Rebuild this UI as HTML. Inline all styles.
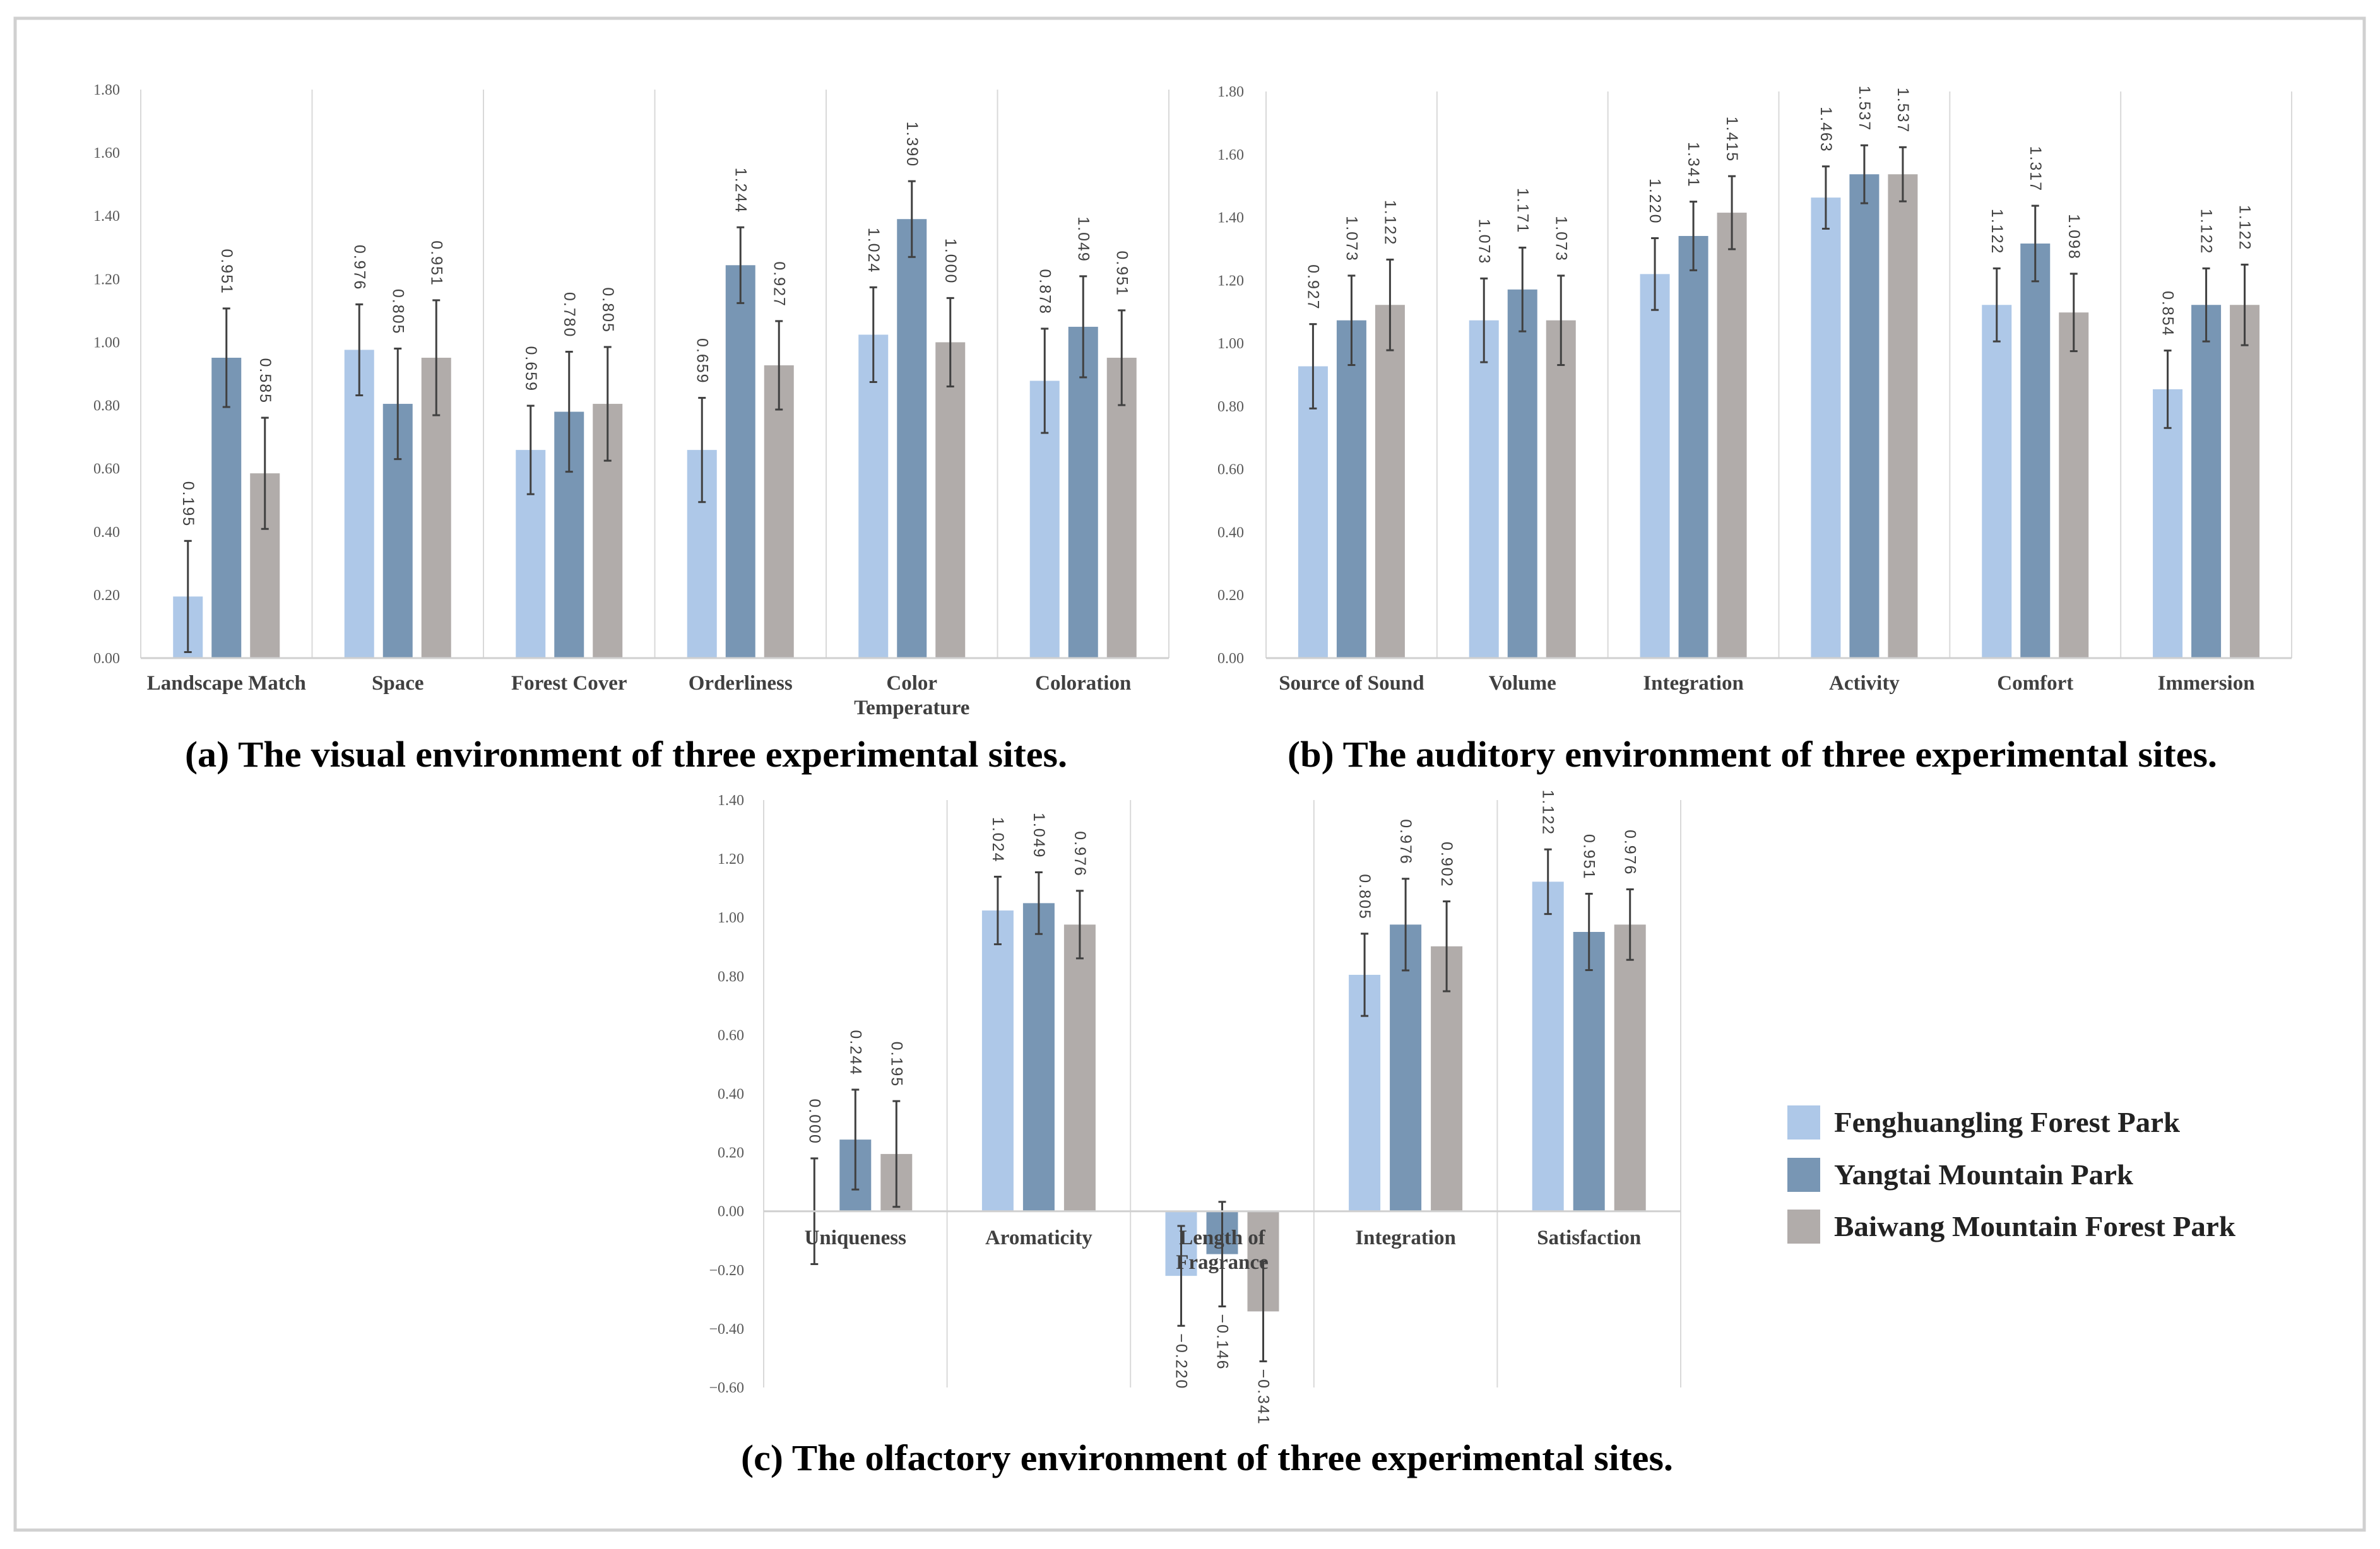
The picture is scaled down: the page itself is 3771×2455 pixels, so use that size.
<!DOCTYPE html>
<html><head><meta charset="utf-8"><style>
html,body{margin:0;padding:0;background:#fff}
svg{display:block}
</style></head><body>
<svg id="root" width="3771" height="2455" viewBox="0 0 3771 2455" xmlns="http://www.w3.org/2000/svg">
<rect x="24" y="29" width="3722" height="2396" fill="#fff" stroke="#d0d0d0" stroke-width="5"/>
<g id="ga"></g>
<g id="gb"></g>
<g id="gc"></g>
<text x="293" y="1215" textLength="1398" lengthAdjust="spacingAndGlyphs" font-family="Liberation Serif, serif" font-weight="bold" font-size="58" fill="#000">(a) The visual environment of three experimental sites.</text>
<text x="2040" y="1215" textLength="1473" lengthAdjust="spacingAndGlyphs" font-family="Liberation Serif, serif" font-weight="bold" font-size="58" fill="#000">(b) The auditory environment of three experimental sites.</text>
<text x="1174" y="2330" textLength="1477" lengthAdjust="spacingAndGlyphs" font-family="Liberation Serif, serif" font-weight="bold" font-size="58" fill="#000">(c) The olfactory environment of three experimental sites.</text>
<g>
<rect x="2832" y="1752" width="52" height="54" fill="#aec8e8"/>
<text x="2906" y="1794" textLength="548" lengthAdjust="spacingAndGlyphs" font-family="Liberation Serif, serif" font-weight="bold" font-size="46" fill="#222">Fenghuangling Forest Park</text>
<rect x="2832" y="1835" width="52" height="54" fill="#7896b4"/>
<text x="2906" y="1877" textLength="474" lengthAdjust="spacingAndGlyphs" font-family="Liberation Serif, serif" font-weight="bold" font-size="46" fill="#222">Yangtai Mountain Park</text>
<rect x="2832" y="1917" width="52" height="54" fill="#b1acaa"/>
<text x="2906" y="1959" textLength="636" lengthAdjust="spacingAndGlyphs" font-family="Liberation Serif, serif" font-weight="bold" font-size="46" fill="#222">Baiwang Mountain Forest Park</text>
</g>
</svg>
<script>
// Chart (a) visual
const catsA = [["Landscape Match"],["Space"],["Forest Cover"],["Orderliness"],["Color","Temperature"],["Coloration"]];
const fengA = [0.195,0.976,0.659,0.659,1.024,0.878];
const yangA = [0.951,0.805,0.780,1.244,1.390,1.049];
const baiA  = [0.585,0.951,0.805,0.927,1.000,0.951];
const errFA = [0.176,0.144,0.14,0.165,0.15,0.165];
const errYA = [0.156,0.175,0.19,0.12,0.12,0.16];
const errBA = [0.176,0.182,0.18,0.14,0.14,0.15];
const ticksA = ["0.00","0.20","0.40","0.60","0.80","1.00","1.20","1.40","1.60","1.80"];
// Chart (b) auditory
const catsB = [["Source of Sound"],["Volume"],["Integration"],["Activity"],["Comfort"],["Immersion"]];
const fengB = [0.927,1.073,1.220,1.463,1.122,0.854];
const yangB = [1.073,1.171,1.341,1.537,1.317,1.122];
const baiB  = [1.122,1.073,1.415,1.537,1.098,1.122];
const errFB = [0.134,0.133,0.114,0.099,0.116,0.123];
const errYB = [0.142,0.133,0.109,0.092,0.12,0.116];
const errBB = [0.144,0.142,0.116,0.086,0.123,0.128];
const ticksB = ["0.00","0.20","0.40","0.60","0.80","1.00","1.20","1.40","1.60","1.80"];
// Chart (c) olfactory
const catsC = [["Uniqueness"],["Aromaticity"],["Length of","Fragrance"],["Integration"],["Satisfaction"]];
const fengC = [0.000,1.024,-0.220,0.805,1.122];
const yangC = [0.244,1.049,-0.146,0.976,0.951];
const baiC  = [0.195,0.976,-0.341,0.902,0.976];
const errFC = [0.18,0.115,0.17,0.14,0.11];
const errYC = [0.17,0.105,0.178,0.156,0.13];
const errBC = [0.18,0.115,0.17,0.153,0.12];
const ticksC = ["-0.60","-0.40","-0.20","0.00","0.20","0.40","0.60","0.80","1.00","1.20","1.40"];

const NS="http://www.w3.org/2000/svg";
const COLORS=["#aec8e8","#7896b4","#b1acaa"];
const SERIES=["fenghuangling","yangtai","baiwang"];
function mk(tag,attrs,parent){const e=document.createElementNS(NS,tag);for(const k in attrs)e.setAttribute(k,attrs[k]);parent.appendChild(e);return e;}

function draw(g,key,cfg,cats,series,errs,ticks){
  const yScale=v=>cfg.y0-(v-cfg.vmin)/(cfg.vmax-cfg.vmin)*(cfg.y0-cfg.y1);
  const n=cats.length, cw=(cfg.x1-cfg.x0)/n;
  const xCenter=i=>cfg.x0+cw*(i+0.5);
  ticks.forEach(t=>{
    const v=parseFloat(t);
    const e=mk("text",{x:cfg.tx,y:yScale(v)+8,"text-anchor":"end","font-family":"Liberation Serif, serif","font-size":"24",fill:"#595959"},g);
    e.textContent=t.replace("-","\u2212");
    
    
  });
  for(let i=0;i<=n;i++){
    const l=mk("line",{x1:cfg.x0+cw*i,x2:cfg.x0+cw*i,y1:cfg.y1,y2:cfg.yb,stroke:"#d9d9d9","stroke-width":"2"},g);
    
    
  }
  const zy=yScale(0);
  series.forEach((vals,s)=>{
    vals.forEach((v,i)=>{
      const cx=xCenter(i)+(s-1)*cfg.off;
      const top=Math.min(zy,yScale(v)),h=Math.abs(yScale(v)-zy);
      const r=mk("rect",{x:cx-cfg.bw/2,y:top,width:cfg.bw,height:Math.max(h,0),fill:COLORS[s]},g);
      
      
      const e=errs[s][i];
      const a=yScale(v+e),b=yScale(v-e);
      const eg=mk("g",{stroke:"#404040","stroke-width":"3"},g);
      
      
      mk("line",{x1:cx,x2:cx,y1:a,y2:b},eg);
      mk("line",{x1:cx-6,x2:cx+6,y1:a,y2:a},eg);
      mk("line",{x1:cx-6,x2:cx+6,y1:b,y2:b},eg);
      const lbl=(v<0?"\u2212":"")+Math.abs(v).toFixed(3);
      let ly,anchor;
      if(v>=0){ly=a-22;anchor="end";}else{ly=b+12;anchor="start";}
      const t=mk("text",{x:0,y:0,"text-anchor":anchor,"font-family":"Liberation Sans, sans-serif","font-size":"25","letter-spacing":"2",fill:"#404040",transform:`translate(${cx-8},${ly}) rotate(90)`},g);
      t.textContent=lbl;
      
      
    });
  });
  const ax=mk("line",{x1:cfg.x0,x2:cfg.x1,y1:zy,y2:zy,stroke:"#d0d0d0","stroke-width":"3"},g);
  
  
  cats.forEach((lines,i)=>{
    lines.forEach((ln,j)=>{
      const t=mk("text",{x:xCenter(i),y:cfg.ly+j*39,"text-anchor":"middle","font-family":"Liberation Serif, serif","font-weight":"bold","font-size":"33",fill:"#404040"},g);
      t.textContent=ln;
      
      
    });
  });
}
draw(document.getElementById("ga"),"a",{x0:223,x1:1852,y0:1043,y1:142,yb:1043,vmin:0,vmax:1.8,tx:190,bw:47,off:61,ly:1093},catsA,[fengA,yangA,baiA],[errFA,errYA,errBA],ticksA);
draw(document.getElementById("gb"),"b",{x0:2006,x1:3631,y0:1043,y1:145,yb:1043,vmin:0,vmax:1.8,tx:1971,bw:47,off:61,ly:1093},catsB,[fengB,yangB,baiB],[errFB,errYB,errBB],ticksB);
draw(document.getElementById("gc"),"c",{x0:1210,x1:2663,y0:2199,y1:1268,yb:2199,vmin:-0.6,vmax:1.4,tx:1179,bw:50,off:65,ly:1972},catsC,[fengC,yangC,baiC],[errFC,errYC,errBC],ticksC);
</script>
</body></html>
